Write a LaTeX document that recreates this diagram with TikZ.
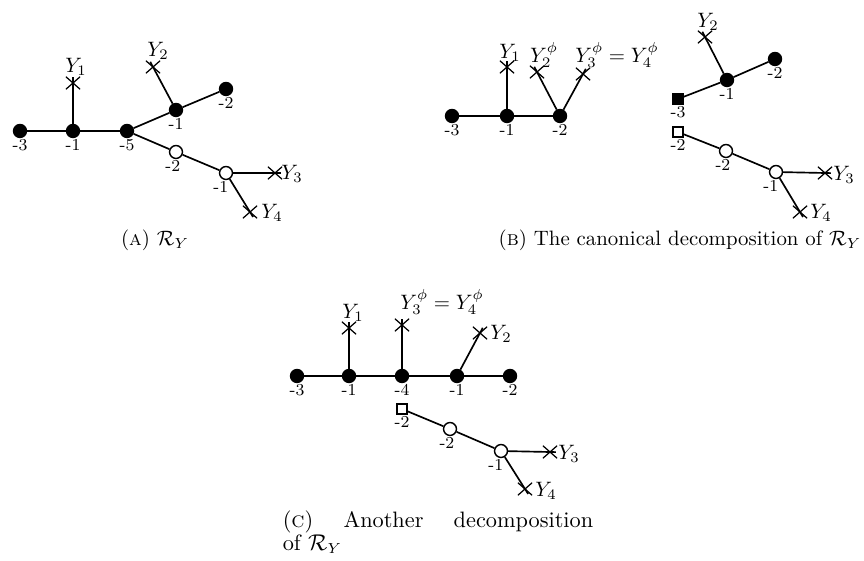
\documentclass[tikz,border=0pt]{standalone}
\usepackage{amsmath}
\usetikzlibrary{shapes.misc}

\tikzset{
  vtx/.style={circle, draw, line width=0.7pt, fill=black, minimum size=6.2pt, inner sep=0pt},
  ovtx/.style={vtx, fill=white},
  sqv/.style={rectangle, draw, line width=0.7pt, fill=black, minimum size=4.6pt, inner sep=0pt},
  osqv/.style={sqv, fill=white},
  ymark/.style={cross out, draw, line width=0.6pt, minimum width=6.2pt, minimum height=5.4pt, inner sep=0pt},
  num/.style={font=\footnotesize, inner sep=0.5pt},
  edge/.style={line width=0.8pt},
  leg/.style={line width=0.8pt, shorten >=-2.8pt},
}

\begin{document}
\begin{tikzpicture}[x=0.48pt, y=-0.48pt]
  \useasboundingbox (0,0) rectangle (864,561);

  % (A) the resolution graph
  \node[vtx, label={[num]below:-3}] (a1) at (20,131) {};
  \node[vtx, label={[num]below:-1}] (a2) at (73,131) {};
  \node[vtx, label={[num]below:-5}] (a3) at (127,131) {};
  \node[vtx, label={[num]below:-1}] (a4) at (176,110) {};
  \node[vtx, label={[num]below:-2}] (a5) at (226,89) {};
  \node[ovtx, label={[num, xshift=-1.5pt]below:-2}] (a6) at (176,152) {};
  \node[ovtx, label={[num, xshift=-2.5pt]below:-1}] (a7) at (226,173) {};
  \node[ymark] (ay1) at (73,83) {};
  \node[ymark] (ay2) at (153,67) {};
  \node[ymark] (ay3) at (275,173) {};
  \node[ymark] (ay4) at (250,212) {};
  \node (lay1) at (76,67) {$Y_1$};
  \node (lay2) at (158,51) {$Y_2$};
  \node (lay3) at (292,174) {$Y_3$};
  \node (lay4) at (272,213) {$Y_4$};
  \draw[edge] (a1) -- (a2) -- (a3) -- (a4) -- (a5);
  \draw[edge] (a3) -- (a6) -- (a7);
  \draw[leg] (a2) -- (ay1.center);
  \draw[leg] (a4) -- (ay2.center);
  \draw[leg] (a7) -- (ay3.center);
  \draw[leg] (a7) -- (ay4.center);
  \node (capa) at (155,240) {(\textsc{a}) $\mathcal{R}_Y$};

  % (B) canonical decomposition
  \node[vtx, label={[num]below:-3}] (b1) at (452,116) {};
  \node[vtx, label={[num]below:-1}] (b2) at (507,116) {};
  \node[vtx, label={[num]below:-2}] (b3) at (560,116) {};
  \node[ymark] (by1) at (507,67) {};
  \node[ymark] (by2) at (537,72) {};
  \node[ymark] (by34) at (583,74) {};
  \node (lby1) at (510,53) {$Y_1$};
  \node (lby2) at (544,55) {$Y_2^\phi$};
  \node (lby34) at (617,55) {$Y_3^\phi = Y_4^\phi$};
  \draw[edge] (b1) -- (b2) -- (b3);
  \draw[leg] (b2) -- (by1.center);
  \draw[leg] (b3) -- (by2.center);
  \draw[leg] (b3) -- (by34.center);

  \node[sqv, label={[num]below:-3}] (b4) at (678,99) {};
  \node[vtx, label={[num]below:-1}] (b5) at (727,80) {};
  \node[vtx, label={[num]below:-2}] (b6) at (775,59) {};
  \node[ymark] (by2r) at (705,37) {};
  \node (lby2r) at (708,22) {$Y_2$};
  \draw[edge] (b4) -- (b5) -- (b6);
  \draw[leg] (b5) -- (by2r.center);

  \node[osqv, label={[num]below:-2}] (b7) at (678,132) {};
  \node[ovtx, label={[num, xshift=-1.5pt]below:-2}] (b8) at (726,151) {};
  \node[ovtx, label={[num, xshift=-2.5pt]below:-1}] (b9) at (776,172) {};
  \node[ymark] (by3) at (825,173) {};
  \node[ymark] (by4) at (800,212) {};
  \node (lby3) at (844,175) {$Y_3$};
  \node (lby4) at (821,213) {$Y_4$};
  \draw[edge] (b7) -- (b8) -- (b9);
  \draw[leg] (b9) -- (by3.center);
  \draw[leg] (b9) -- (by4.center);
  \node (capb) at (680,240) {(\textsc{b}) The canonical decomposition of $\mathcal{R}_Y$};

  % (C) another decomposition
  \node[vtx, label={[num]below:-3}] (c1) at (297,376) {};
  \node[vtx, label={[num]below:-1}] (c2) at (349,376) {};
  \node[vtx, label={[num]below:-4}] (c3) at (402,376) {};
  \node[vtx, label={[num]below:-1}] (c4) at (457,376) {};
  \node[vtx, label={[num]below:-2}] (c5) at (510,376) {};
  \node[ymark] (cy1) at (349,328) {};
  \node[ymark] (cy34) at (402,325) {};
  \node[ymark] (cy2) at (480,333) {};
  \node (lcy1) at (353,313) {$Y_1$};
  \node (lcy34) at (442,302) {$Y_3^\phi = Y_4^\phi$};
  \node (lcy2) at (501,334) {$Y_2$};
  \draw[edge] (c1) -- (c2) -- (c3) -- (c4) -- (c5);
  \draw[leg] (c2) -- (cy1.center);
  \draw[leg] (c3) -- (cy34.center);
  \draw[leg] (c4) -- (cy2.center);

  \node[osqv, label={[num]below:-2}] (c6) at (402,409) {};
  \node[ovtx, label={[num, xshift=-1.5pt]below:-2}] (c7) at (450,429) {};
  \node[ovtx, label={[num, xshift=-2.5pt]below:-1}] (c8) at (501,451) {};
  \node[ymark] (cy3) at (550,452) {};
  \node[ymark] (cy4) at (525,489) {};
  \node (lcy3) at (569,454) {$Y_3$};
  \node (lcy4) at (546,491) {$Y_4$};
  \draw[edge] (c6) -- (c7) -- (c8);
  \draw[leg] (c8) -- (cy3.center);
  \draw[leg] (c8) -- (cy4.center);
  \node[text width=149pt, align=justify, inner sep=0pt,
        font=\fontsize{10.7}{11}\selectfont] (capc) at (438,532)
    {(\textsc{c}) Another decomposition\linebreak of $\mathcal{R}_Y$};
\end{tikzpicture}
\end{document}
